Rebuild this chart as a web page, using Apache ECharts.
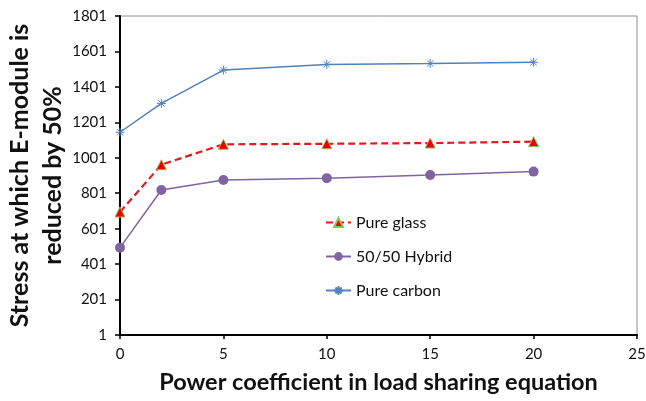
<!DOCTYPE html>
<html>
<head>
<meta charset="utf-8">
<script src="https://cdn.jsdelivr.net/npm/echarts@6/dist/echarts.min.js"></script>
<style>html,body{margin:0;padding:0;background:#fff}#c{width:646px;height:401px}</style>
</head>
<body>
<div id="c"></div>
<script>
var xValues = [0, 2, 5, 10, 15, 20];
var pureGlass = [695, 962, 1077, 1080, 1084, 1092];
var hybrid = [494, 819, 876, 886, 904, 923];
var pureCarbon = [1145, 1308, 1496, 1528, 1533, 1540];
var yTickLabels = [1, 201, 401, 601, 801, 1001, 1201, 1401, 1601, 1801];
var seriesNames = ['Pure glass', '50/50 Hybrid', 'Pure carbon'];

function pairs(ys) { return xValues.map(function (x, i) { return [x, ys[i]]; }); }

var FONT = 'Lato';
var chart = echarts.init(document.getElementById('c'));
var star = 'path://M0,5L10,5M5,0L5,10M1.5,1.5L8.5,8.5M8.5,1.5L1.5,8.5';
chart.setOption({
  animation: false,
  textStyle: { fontFamily: FONT },
  grid: { left: 120, right: 9, top: 16, bottom: 66, outerBoundsMode: 'none', containLabel: false,
          show: true, borderColor: '#8c8c8c', borderWidth: 1 },
  legend: {
    orient: 'vertical', left: 320, top: 209, itemGap: 17, itemWidth: 25, itemHeight: 11,
    textStyle: { fontFamily: FONT, fontSize: 16, color: '#111', lineHeight: 17 },
    data: seriesNames
  },
  xAxis: {
    type: 'value', min: 0, max: 25, interval: 5,
    axisLine: { lineStyle: { color: '#000', width: 2 } },
    axisTick: { show: true, inside: false, length: 4, lineStyle: { color: '#000', width: 1.5 } },
    splitLine: { show: false },
    axisLabel: { fontFamily: FONT, fontSize: 15, color: '#111', margin: 12 },
    name: 'Power coefficient in load sharing equation',
    nameLocation: 'middle', nameGap: 35,
    nameTextStyle: { fontFamily: FONT, fontSize: 23.5, fontWeight: 'bold', color: '#111' }
  },
  yAxis: {
    type: 'value', min: 1, max: 1801,
    axisLine: { show: true, lineStyle: { color: '#000', width: 2 } },
    axisTick: { show: true, inside: false, length: 5, customValues: yTickLabels, lineStyle: { color: '#000', width: 1.5 } },
    splitLine: { show: false },
    axisLabel: { fontFamily: FONT, fontSize: 15, color: '#111', margin: 13, customValues: yTickLabels,
                 formatter: function (v) { return String(v); } },
    name: 'Stress at which E-module is\nreduced by 50%',
    nameLocation: 'middle', nameGap: 51, nameRotate: 90, nameMoveOverlap: false,
    nameTextStyle: { fontFamily: FONT, fontSize: 25, fontWeight: 'bold', color: '#111', lineHeight: 33, align: 'center' }
  },
  series: [
    {
      name: seriesNames[0], type: 'line', data: pairs(pureGlass),
      symbol: 'triangle', symbolSize: 10,
      lineStyle: { color: '#e31a1c', width: 2.2, type: [7, 4] },
      itemStyle: { color: '#ee0000', borderColor: '#9bbb59', borderWidth: 1 }
    },
    {
      name: seriesNames[1], type: 'line', data: pairs(hybrid),
      symbol: 'circle', symbolSize: 10,
      lineStyle: { color: '#8064a2', width: 1.5 },
      itemStyle: { color: '#8064a2', borderColor: '#8064a2', borderWidth: 0 }
    },
    {
      name: seriesNames[2], type: 'line', data: pairs(pureCarbon),
      symbol: star, symbolSize: 9,
      lineStyle: { color: '#4f81bd', width: 1.5 },
      itemStyle: { color: 'rgba(0,0,0,0)', borderColor: '#4f81bd', borderWidth: 1 }
    }
  ]
});
</script>
</body>
</html>
